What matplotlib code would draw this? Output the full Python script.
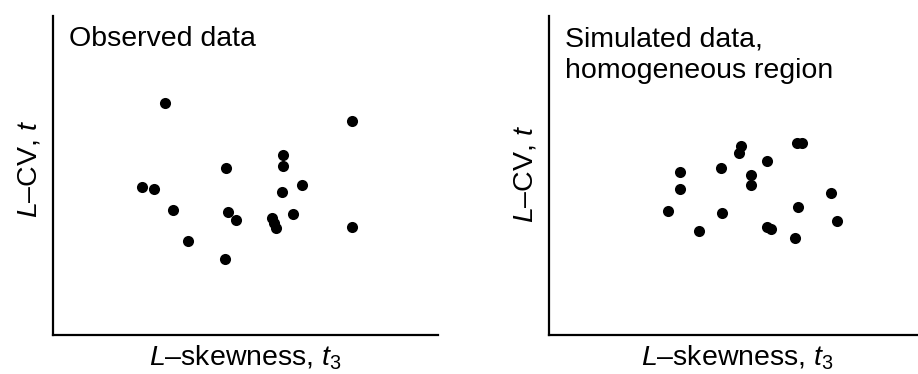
import matplotlib
matplotlib.use("Agg")
import matplotlib.pyplot as plt

plt.rcParams["font.family"] = ["Liberation Sans", "DejaVu Sans"]
plt.rcParams["mathtext.fontset"] = "custom"
plt.rcParams["mathtext.rm"] = "Liberation Sans"
plt.rcParams["mathtext.it"] = "Liberation Sans:italic"

# L-moment ratios of the sites (arbitrary units, no tick scale shown)
observed_t3 = [0.291, 0.777, 0.597, 0.597, 0.449, 0.231, 0.262, 0.647, 0.595,
               0.312, 0.455, 0.475, 0.623, 0.569, 0.574, 0.579, 0.777, 0.351,
               0.447]
observed_t = [0.727, 0.671, 0.564, 0.530, 0.524, 0.464, 0.458, 0.470, 0.448,
              0.392, 0.386, 0.361, 0.379, 0.367, 0.351, 0.335, 0.339, 0.295,
              0.238]

simulated_t3 = [0.499, 0.494, 0.644, 0.657, 0.566, 0.340, 0.447, 0.525, 0.525,
                0.340, 0.732, 0.309, 0.449, 0.647, 0.748, 0.390, 0.566, 0.577,
                0.639]
simulated_t = [0.592, 0.571, 0.602, 0.602, 0.545, 0.511, 0.524, 0.502, 0.470,
               0.458, 0.445, 0.389, 0.382, 0.401, 0.357, 0.326, 0.339, 0.332,
               0.304]

panel_titles = [["Observed data"], ["Simulated data,", "homogeneous region"]]
x_label = r"$L$–skewness, $t_3$"
y_label = r"$L$–CV, $t$"

W, H = 918, 374
fig = plt.figure(figsize=(W / 100, H / 100), dpi=100)

FS = 20.5
panels = [
    dict(rect=(53, 438), xs=observed_t3, ys=observed_t, titles=panel_titles[0],
         ylab_x=-0.042, ylab_y=0.52, xlab_x=0.5),
    dict(rect=(549, 918), xs=simulated_t3, ys=simulated_t, titles=panel_titles[1],
         ylab_x=-0.046, ylab_y=0.505, xlab_x=0.51),
]

y_top, y_bot = 16, 335
for p in panels:
    x0, x1 = p["rect"]
    ax = fig.add_axes([x0 / W, (H - y_bot) / H, (x1 - x0) / W, (y_bot - y_top) / H])
    # same horizontal scale for both panels
    ax.set_xlim(0, (x1 - x0) / 385)
    ax.set_ylim(0, 1)
    ax.plot(p["xs"], p["ys"], "o", color="black", markersize=8,
            markeredgewidth=0, clip_on=False)
    for side in ("top", "right"):
        ax.spines[side].set_visible(False)
    for side in ("left", "bottom"):
        ax.spines[side].set_linewidth(1.6)
        ax.spines[side].set_color("black")
    ax.set_xticks([])
    ax.set_yticks([])

    tx = 16 / (x1 - x0)
    baselines = [46.5, 77.5]
    for line, b in zip(p["titles"], baselines):
        ax.text(tx, (y_bot - b) / (y_bot - y_top), line, transform=ax.transAxes,
                fontsize=FS, ha="left", va="baseline")

    ax.set_xlabel(x_label, fontsize=FS, va="baseline")
    ax.xaxis.set_label_coords(p["xlab_x"], (y_bot - 366) / (y_bot - y_top))
    ax.set_ylabel(y_label, fontsize=FS, va="baseline", rotation_mode="anchor")
    ax.yaxis.set_label_coords(p["ylab_x"], p["ylab_y"])

fig.savefig("out.png", dpi=100)
